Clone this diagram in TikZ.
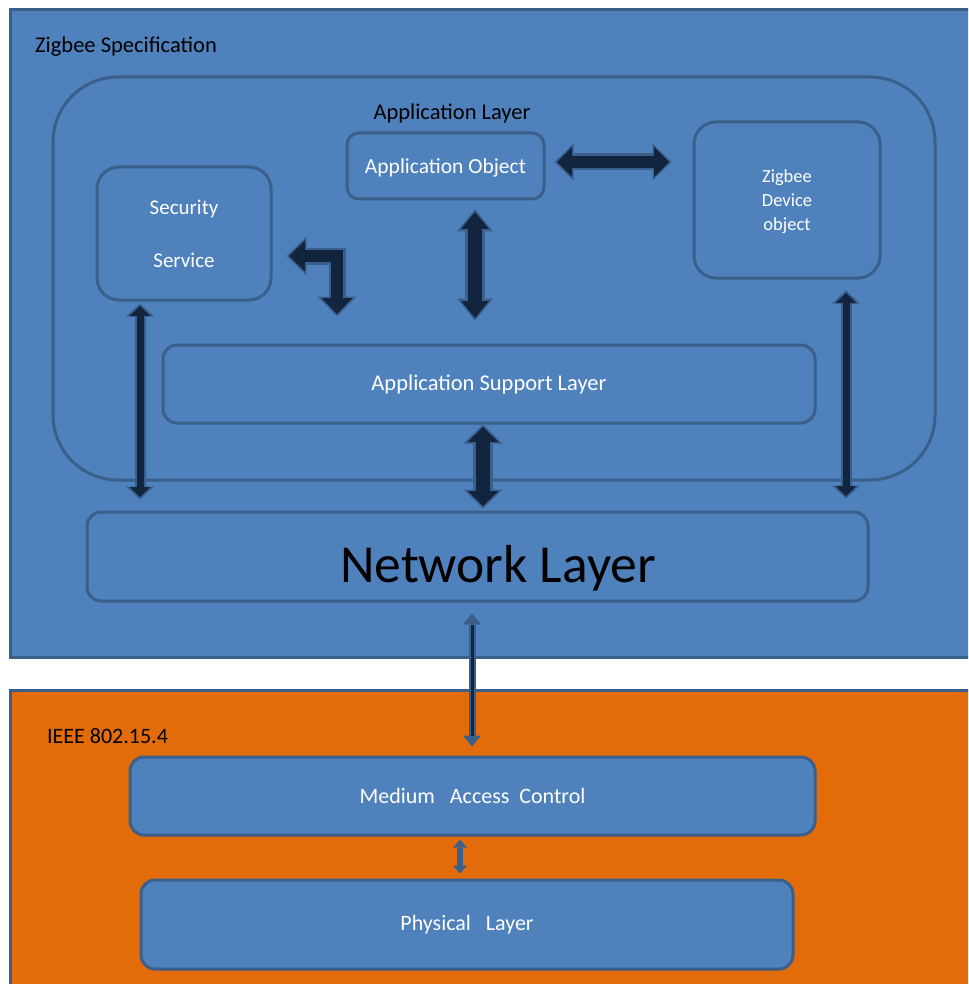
\documentclass[tikz,border=0pt]{standalone}
\usepackage{fontspec}
\setmainfont{Carlito}
\usetikzlibrary{arrows.meta,calc}
\definecolor{zbblue}{HTML}{4F81BD}
\definecolor{zbedge}{HTML}{3A5F8B}
\definecolor{zborange}{HTML}{E36C0A}
\definecolor{zbdark}{HTML}{13243F}
\begin{document}
\begin{tikzpicture}[x=1pt,y=-1pt,
  panel/.style={draw=zbedge, line width=3pt},
  box/.style={draw=zbedge, fill=zbblue, line width=3pt, rounded corners=#1, text=white, inner sep=0pt, align=center},
  blacklabel/.style={text=black, inner sep=0pt},
  outerarrow/.style n args={3}{draw=zbedge, line width=#1, line join=miter,
     arrows={Triangle[width=#2,length=#3,line width=0pt]-Triangle[width=#2,length=#3,line width=0pt]}},
  innerarrow/.style n args={3}{draw=zbdark, line width=#1, line join=miter, shorten <=2.5pt, shorten >=2.5pt,
     arrows={Triangle[width=#2,length=#3,line width=0pt]-Triangle[width=#2,length=#3,line width=0pt]}}
]
\useasboundingbox (0,0) rectangle (968,984);
\clip (0,0) rectangle (968,984);
\fill[white] (0,0) rectangle (968,984);

% outer panels
\draw[panel, fill=zbblue] (10,10) rectangle (990,657);
\draw[panel, fill=zborange] (10,690) rectangle (990,1000);

\node[blacklabel, anchor=west, font=\fontsize{22.5}{27}\selectfont] (speclabel) at (35,47) {Zigbee Specification};
\node[blacklabel, anchor=west, font=\fontsize{22}{26}\selectfont] (ieeelabel) at (47,736.5) {IEEE 802.15.4};

% application layer container
\node[draw=zbedge, line width=3pt, rounded corners=65pt, minimum width=882pt, minimum height=403pt, inner sep=0pt] (applayer) at (494,278.5) {};
\node[blacklabel, font=\fontsize{22.5}{27}\selectfont] (applabel) at (452,113.5) {Application Layer};

% boxes
\node[box=12pt, minimum width=197pt, minimum height=66pt, text depth=0pt, font=\fontsize{21.5}{26}\selectfont] (ao) at (445.5,166) {Application Object};
\node[box=22pt, minimum width=174pt, minimum height=133pt, font=\fontsize{21}{25}\selectfont] (sec) at (184,233.5) {Security\\[28pt]Service};
\node[box=22pt, minimum width=186pt, minimum height=156pt, text depth=0pt, font=\fontsize{18.5}{24}\selectfont] (zdo) at (787,200) {Zigbee\\Device\\object};
\node[box=14pt, minimum width=652pt, minimum height=78pt, font=\fontsize{22.5}{27}\selectfont] (asl) at (489,384) {Application Support Layer};
\node[box=14pt, minimum width=781pt, minimum height=89pt,
      label={[text=black, font=\fontsize{53.5}{60}\selectfont, xshift=20.5pt, yshift=-12pt]center:Network Layer}] (nwl) at (477.5,556.5) {};
\node[box=14pt, minimum width=685pt, minimum height=78pt, font=\fontsize{22}{26}\selectfont] (mac) at (472.5,796) {Medium\ \ \ Access\ \ Control};
\node[box=14pt, minimum width=652pt, minimum height=89pt, font=\fontsize{22}{26}\selectfont] (phy) at (467,924.5) {Physical\ \ \ Layer};

% block arrows
% Application Object <-> ZDO
\draw[outerarrow={17pt}{37pt}{19pt}] ($(ao.east)+(9,-4)$) -- ($(zdo.west)+(-21,-38)$);
\draw[innerarrow={12pt}{30pt}{15pt}] ($(ao.east)+(9,-4)$) -- ($(zdo.west)+(-21,-38)$);
% Application Object <-> ASL
\draw[outerarrow={20pt}{36pt}{22pt}] ($(ao.south)+(29.5,9)$) -- ($(asl.north)+(-14,-23)$);
\draw[innerarrow={14pt}{28pt}{17pt}] ($(ao.south)+(29.5,9)$) -- ($(asl.north)+(-14,-23)$);
% Security <-> ASL (bent)
\draw[outerarrow={17pt}{39pt}{20pt}] ($(sec.east)+(14,22.5)$) -| ($(asl.north)+(-152,-27)$);
\draw[innerarrow={12pt}{31pt}{16pt}] ($(sec.east)+(14,22.5)$) -| ($(asl.north)+(-152,-27)$);
% ASL <-> Network
\draw[outerarrow={20pt}{39pt}{19pt}] ($(asl.south)+(-6,0)$) -- ($(nwl.north)+(5.5,-2)$);
\draw[innerarrow={14pt}{31pt}{15pt}] ($(asl.south)+(-6,0)$) -- ($(nwl.north)+(5.5,-2)$);
% Security <-> Network
\draw[outerarrow={11pt}{28pt}{13pt}] ($(sec.south)+(-44,2)$) -- ($(nwl.north)+(-337.5,-11)$);
\draw[innerarrow={7pt}{21pt}{10pt}] ($(sec.south)+(-44,2)$) -- ($(nwl.north)+(-337.5,-11)$);
% ZDO <-> Network
\draw[outerarrow={11pt}{28pt}{13pt}] ($(zdo.south)+(59,11)$) -- ($(nwl.north)+(368.5,-12)$);
\draw[innerarrow={7pt}{21pt}{10pt}] ($(zdo.south)+(59,11)$) -- ($(nwl.north)+(368.5,-12)$);
% Network <-> MAC
\draw[outerarrow={7pt}{18pt}{11pt}] ($(nwl.south)+(-5.5,11)$) -- ($(mac.north)+(-0.5,-9)$);
\draw[draw=zbdark, line width=3pt, shorten <=11pt, shorten >=11pt] ($(nwl.south)+(-5.5,11)$) -- ($(mac.north)+(-0.5,-9)$);
% MAC <-> PHY
\draw[outerarrow={6pt}{14pt}{8pt}] ($(mac.south)+(-12.5,3)$) -- ($(phy.north)+(-7,-5)$);
\end{tikzpicture}
\end{document}
